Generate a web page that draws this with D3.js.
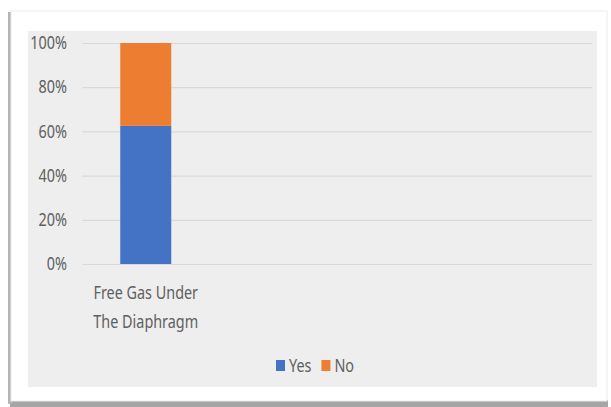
<!DOCTYPE html>
<html>
<head>
<meta charset="utf-8">
<script src="https://cdn.jsdelivr.net/npm/d3@7"></script>
<style>
  html, body { margin: 0; padding: 0; background: #fff; }
  svg { display: block; }
  text { font-family: "Noto Sans", "Open Sans", sans-serif; fill: #606060; }
</style>
</head>
<body>
<div id="chart"></div>
<script>
'use strict';

// data
const categories = ['Free Gas Under The Diaphragm', '', '', ''];
const categoryLines = [['Free Gas Under', 'The Diaphragm'], [], [], []];
const seriesNames = ['Yes', 'No'];
const yesValues = [62.5, null, null, null];
const noValues = [37.5, null, null, null];
const yTicks = [0, 20, 40, 60, 80, 100];

const COLORS = { Yes: '#4472C4', No: '#ED7D31' };
const W = 611, H = 407;
const PLOT = { left: 82, right: 592, top: 43, bottom: 264 };
const SX = 0.8; // text looks horizontally squeezed in the source

const svg = d3.select('#chart').append('svg')
  .attr('width', W)
  .attr('height', H);

// card with shadow
svg.append('rect')
  .attr('x', 10).attr('y', 400).attr('width', 598).attr('height', 7)
  .attr('fill', '#a5a5a5');
svg.append('rect')
  .attr('x', 8).attr('y', 12).attr('width', 4).attr('height', 392)
  .attr('fill', '#b5b5b5');
svg.append('rect')
  .attr('x', 11).attr('y', 11).attr('width', 596).attr('height', 390)
  .attr('fill', '#fff')
  .attr('stroke', '#ececec');

// chart area
svg.append('rect')
  .attr('x', 28).attr('y', 31).attr('width', 569).attr('height', 356)
  .attr('fill', '#eeeeee');

const x = d3.scaleBand()
  .domain(d3.range(categories.length))
  .range([PLOT.left, PLOT.right])
  .paddingInner(0.6)
  .paddingOuter(0.3);

const y = d3.scaleLinear()
  .domain([0, 100])
  .range([PLOT.bottom, PLOT.top]);

const w = PLOT.right - PLOT.left;

const yAxis = svg.append('g')
  .attr('transform', `translate(${PLOT.left},0)`)
  .call(d3.axisLeft(y).tickValues(yTicks).tickSize(-w).tickFormat(d => d + '%'))
  .call(g => g.select('.domain').remove());

yAxis.selectAll('line')
  .attr('stroke', '#d9d9d9')
  .attr('stroke-width', 1.2);

yAxis.selectAll('text')
  .attr('x', -15 / SX)
  .attr('transform', `scale(${SX},1)`)
  .style('font-size', '18px')
  .style('font-family', '"Noto Sans", sans-serif')
  .attr('fill', '#606060');

// stacked bars
const stackRows = categories.map((c, i) => ({ i, Yes: yesValues[i], No: noValues[i] }))
  .filter(r => r.Yes != null);
const stacked = d3.stack().keys(seriesNames)(stackRows);

stacked.forEach(layer => {
  svg.append('g')
    .selectAll('rect')
    .data(layer)
    .join('rect')
    .attr('x', d => x(d.data.i))
    .attr('width', x.bandwidth())
    .attr('y', d => y(d[1]))
    .attr('height', d => y(d[0]) - y(d[1]))
    .attr('fill', COLORS[layer.key]);
});

// category labels
categoryLines.forEach((lines, i) => {
  const cx = x(i) + x.bandwidth() / 2;
  lines.forEach((ln, j) => {
    svg.append('text')
      .attr('transform', `translate(${cx},${293 + j * 29}) scale(${SX},1)`)
      .attr('text-anchor', 'middle')
      .attr('dy', '0.35em')
      .style('font-size', '18px')
      .text(ln);
  });
});

// legend
const legend = svg.append('g').attr('transform', 'translate(276,366)');
let lx = 0;
seriesNames.forEach(name => {
  legend.append('rect')
    .attr('x', lx).attr('y', -6).attr('width', 9).attr('height', 11)
    .attr('fill', COLORS[name]);
  const t = legend.append('text')
    .attr('transform', `translate(${lx + 13},0) scale(${SX},1)`)
    .attr('dy', '0.35em')
    .style('font-size', '18px')
    .text(name);
  lx += 13 + t.node().getComputedTextLength() * SX + 10;
});
</script>
</body>
</html>
